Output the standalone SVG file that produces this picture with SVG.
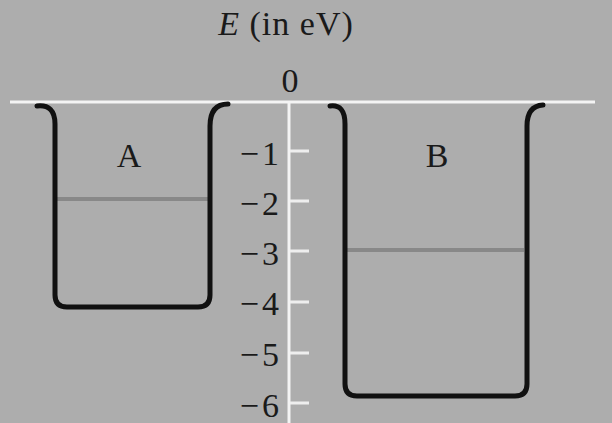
<svg xmlns="http://www.w3.org/2000/svg" width="612" height="423" viewBox="0 0 612 423">
<style>
.well{fill:none;stroke:#111;stroke-width:5;stroke-linecap:round;stroke-linejoin:round}
.level{stroke:#888888;stroke-width:4}
.axis{stroke:#f4f4f4;stroke-width:3}
.tick{stroke:#eeeeee;stroke-width:3}
.lbl{font-family:"Liberation Serif","Times New Roman",serif;font-size:34px;fill:#1a1a1a}
.num{text-anchor:end}
</style>
<rect width="612" height="423" fill="#adadad"/>
<g id="connectors">
<line class="axis" x1="10" y1="102" x2="595" y2="102"/>
<line class="axis" x1="289" y1="102" x2="289" y2="423"/>
<line class="tick" x1="290" y1="151" x2="309" y2="151"/>
<line class="tick" x1="290" y1="201" x2="309" y2="201"/>
<line class="tick" x1="290" y1="251" x2="309" y2="251"/>
<line class="tick" x1="290" y1="302" x2="309" y2="302"/>
<line class="tick" x1="290" y1="353" x2="309" y2="353"/>
<line class="tick" x1="290" y1="403" x2="309" y2="403"/>
</g>
<g id="axis-labels">
<text class="lbl" x="286" y="35" text-anchor="middle" letter-spacing="1"><tspan font-style="italic">E</tspan> (in eV)</text>
<text class="lbl" x="290" y="92" text-anchor="middle">0</text>
<text class="lbl num" x="279" y="165">−<tspan dx="3">1</tspan></text>
<text class="lbl num" x="279" y="215">−<tspan dx="3">2</tspan></text>
<text class="lbl num" x="279" y="265">−<tspan dx="3">3</tspan></text>
<text class="lbl num" x="279" y="315">−<tspan dx="3">4</tspan></text>
<text class="lbl num" x="279" y="366">−<tspan dx="3">5</tspan></text>
<text class="lbl num" x="279" y="417">−<tspan dx="3">6</tspan></text>
</g>
<g id="well-A">
<line class="level" x1="57" y1="199" x2="208" y2="199"/>
<path class="well" d="M37,106 Q55,104 55,124 L55,295 Q55,307 67,307 L198,307 Q210,307 210,295 L210,126 Q210,104 228,104"/>
<text class="lbl" x="129" y="167" text-anchor="middle">A</text>
</g>
<g id="well-B">
<line class="level" x1="347" y1="250" x2="524" y2="250"/>
<path class="well" d="M330,106 Q345,104 345,124 L345,384 Q345,396 357,396 L515,396 Q527,396 527,384 L527,126 Q527,106 543,105"/>
<text class="lbl" x="437" y="167" text-anchor="middle">B</text>
</g>
</svg>
